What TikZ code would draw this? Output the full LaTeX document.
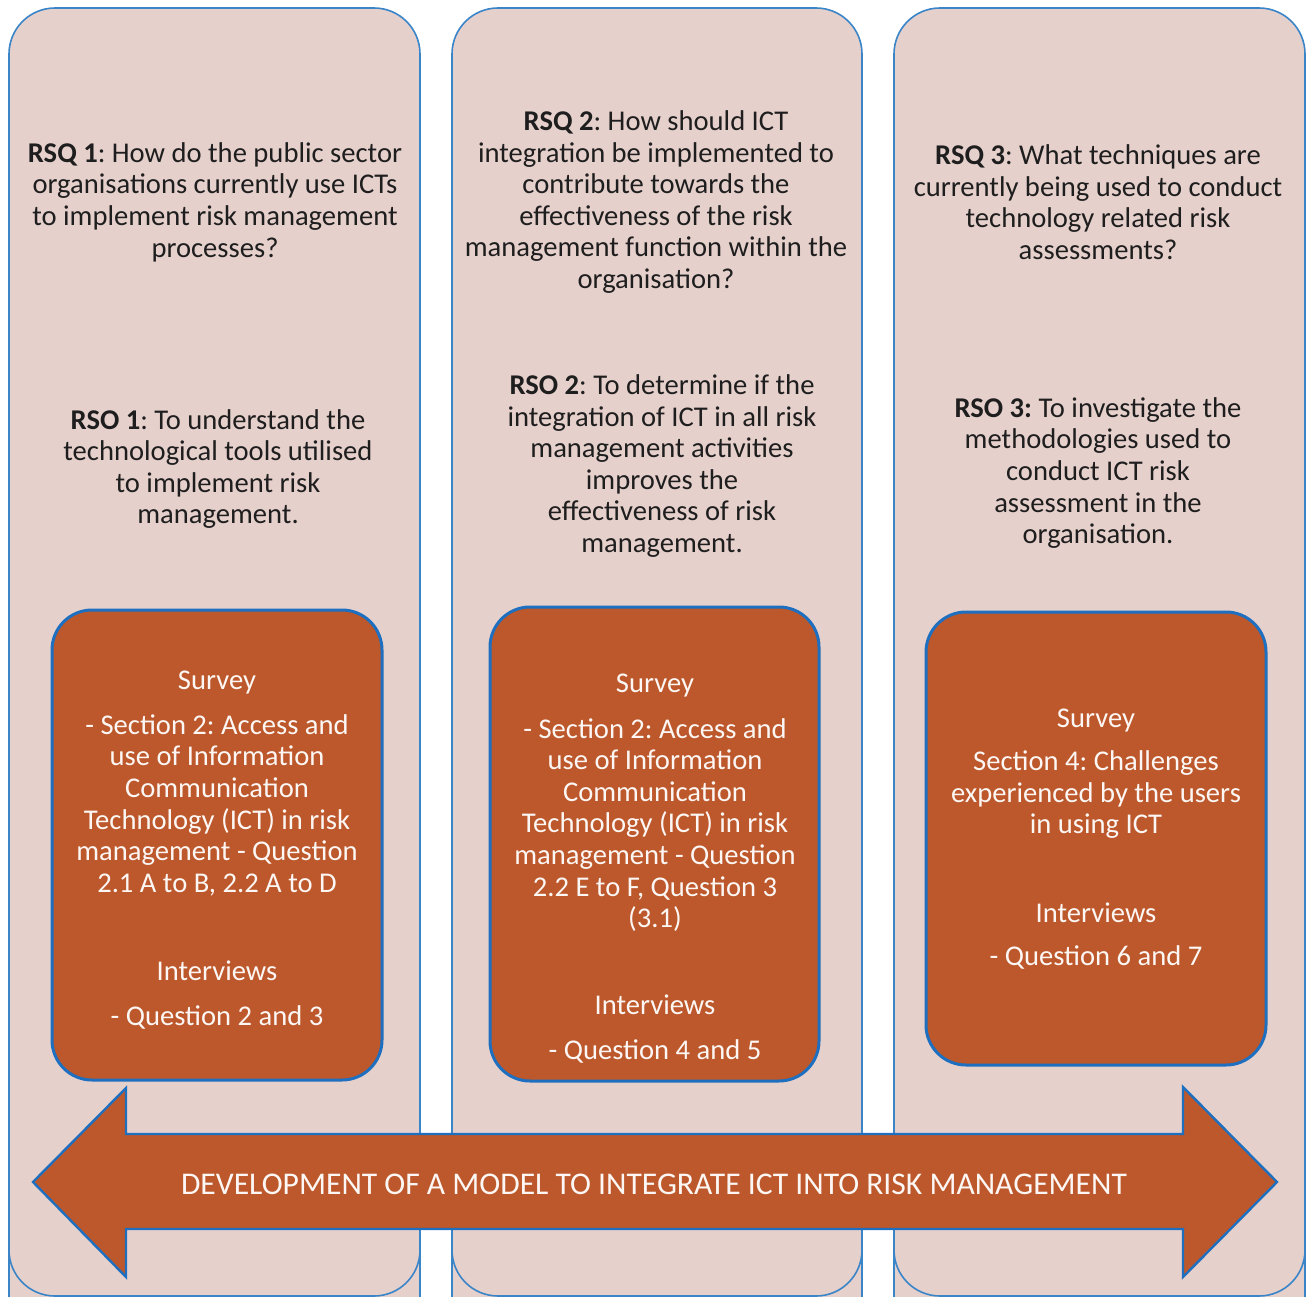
\documentclass[tikz,border=0pt]{standalone}
\usepackage{fontspec}
\setmainfont{Carlito}
\frenchspacing
\definecolor{panelfill}{HTML}{E6D0CC}
\definecolor{panelline}{HTML}{3A85C8}
\definecolor{boxfill}{HTML}{BC582B}
\definecolor{boxline}{HTML}{1F6FC0}
\definecolor{inktext}{HTML}{1E1E1E}
\begin{document}
\begin{tikzpicture}[x=1pt,y=-1pt,
  panel/.style={fill=panelfill,draw=panelline,line width=1.6pt,rounded corners=46pt},
  methodbox/.style={fill=boxfill,draw=boxline,line width=3pt,rounded corners=40pt},
  qtext/.style={align=center,text=inktext,font=\fontsize{28.6}{31.6}\selectfont,inner sep=0pt},
  btext/.style={align=center,text=white!95!boxfill,font=\fontsize{28.6}{31.6}\selectfont,inner sep=0pt},
  arrowshape/.style={fill=boxfill,draw=boxline,line width=2.4pt,line join=miter}]
\useasboundingbox (0,0) rectangle (1309,1297);

% three vertical columns
\draw[panel] (9,1340) -- (9,8) -- (420,8) -- (420,1340);
\draw[panel] (452,1340) -- (452,8) -- (862,8) -- (862,1340);
\draw[panel] (894,1340) -- (894,8) -- (1305,8) -- (1305,1340);
\begin{scope}
\clip (0,0) rectangle (1309,1297);
\draw[panel] (9,500) -- (9,1296) -- (420,1296) -- (420,500);
\draw[panel] (452,500) -- (452,1296) -- (862,1296) -- (862,500);
\draw[panel] (894,500) -- (894,1296) -- (1305,1296) -- (1305,500);
\end{scope}

% research sub-questions
\node[qtext] (rsq1) at (215,202) {\textbf{RSQ 1}: How do the public sector\\organisations currently use ICTs\\to implement risk management\\processes?};
\node[qtext] (rsq2) at (656,202) {\textbf{RSQ 2}: How should ICT\\integration be implemented to\\contribute towards the\\effectiveness of the risk\\management function within the\\organisation?};
\node[qtext] (rsq3) at (1098,202) {\textbf{RSQ 3}: What techniques are\\currently being used to conduct\\technology related risk\\assessments?};

% research sub-objectives
\node[qtext] (rso1) at (218,469) {\textbf{RSO 1}: To understand the\\technological tools utilised\\to implement risk\\management.};
\node[qtext] (rso2) at (662,466) {\textbf{RSO 2}: To determine if the\\integration of ICT in all risk\\management activities\\improves the\\effectiveness of risk\\management.};
\node[qtext] (rso3) at (1098,473) {\textbf{RSO 3:} To investigate the\\methodologies used to\\conduct ICT risk\\assessment in the\\organisation.};

% data collection boxes
\draw[methodbox] (52,610) rectangle (382,1080);
\draw[methodbox] (490,607) rectangle (819,1081);
\draw[methodbox] (926,612) rectangle (1266,1065);

\node[btext] (m1) at (217,850) {Survey\\[13.5pt]- Section 2: Access and\\use of Information\\Communication\\Technology (ICT) in risk\\management - Question\\2.1 A to B, 2.2 A to D\\[56.5pt]Interviews\\[13.5pt]- Question 2 and 3};
\node[btext] (m2) at (655,869) {Survey\\[13.5pt]- Section 2: Access and\\use of Information\\Communication\\Technology (ICT) in risk\\management - Question\\2.2 E to F, Question 3\\(3.1)\\[55.5pt]Interviews\\[13.5pt]- Question 4 and 5};
\node[btext] (m3) at (1096,839) {Survey\\[11.5pt]Section 4: Challenges\\experienced by the users\\in using ICT\\[56.5pt]Interviews\\[11.5pt]- Question 6 and 7};

% double-headed arrow along the bottom
\draw[arrowshape] (33,1182) -- (126,1088) -- (126,1134) -- (1183,1134) -- (1183,1087)
  -- (1277,1182) -- (1183,1277) -- (1183,1229) -- (126,1229) -- (126,1277) -- cycle;
\node[btext,font=\fontsize{31.6}{36}\selectfont] (goal) at (654,1184) {DEVELOPMENT OF A MODEL TO INTEGRATE ICT INTO RISK MANAGEMENT};
\end{tikzpicture}
\end{document}
